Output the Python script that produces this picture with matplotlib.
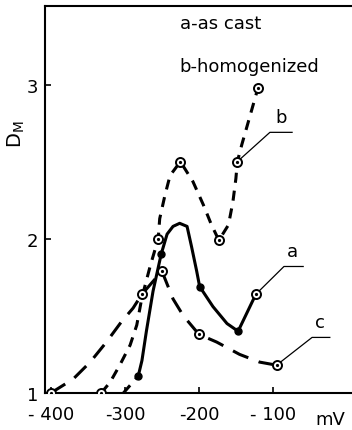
import matplotlib
matplotlib.use("Agg")
import matplotlib.pyplot as plt

# curve a - as cast (solid), lower dashed stub first
a_stub_x = [-302, -282]
a_stub_y = [1.00, 1.11]
a_x = [-282, -277, -271, -262, -251, -243, -235, -226, -216, -210, -203, -199, -181, -162, -147, -123]
a_y = [1.11, 1.21, 1.40, 1.66, 1.90, 2.03, 2.08, 2.10, 2.08, 1.95, 1.79, 1.69, 1.56, 1.45, 1.40, 1.64]
a_filled_x = [-282, -251, -199, -147]
a_filled_y = [1.11, 1.90, 1.69, 1.40]
a_open_x = [-123]
a_open_y = [1.64]

# curve b - homogenized (short dashes)
b_x = [-332, -320, -307, -293, -284, -277, -266, -255, -253, -246, -239, -225, -208, -194, -183, -173, -160, -154, -150, -148, -142, -120]
b_y = [1.00, 1.07, 1.18, 1.31, 1.44, 1.62, 1.82, 2.00, 2.13, 2.28, 2.41, 2.50, 2.37, 2.22, 2.09, 1.99, 2.09, 2.24, 2.39, 2.50, 2.61, 2.98]
b_mark_x = [-332, -255, -225, -173, -148, -120]
b_mark_y = [1.00, 2.00, 2.50, 1.99, 2.50, 2.98]

# curve c (long dashes)
c_x = [-400, -370, -347, -325, -305, -289, -277, -250, -235, -221, -200, -176, -145, -118, -95]
c_y = [1.00, 1.09, 1.20, 1.33, 1.46, 1.55, 1.64, 1.79, 1.61, 1.50, 1.38, 1.33, 1.25, 1.20, 1.18]
c_mark_x = [-400, -277, -250, -200, -95]
c_mark_y = [1.00, 1.64, 1.79, 1.38, 1.18]

# leader lines: point -> elbow -> end, label position
leaders = {
    'a': ([-123, -85, -59], [1.64, 1.82, 1.82], (-73, 1.86)),
    'b': ([-148, -104, -74], [2.50, 2.69, 2.69], (-89, 2.73)),
    'c': ([-95, -47, -23], [1.18, 1.36, 1.36], (-36, 1.40)),
}

xticks = [-400, -300, -200, -100]
xticklabels = ['- 400', '-300', '-200', '- 100']
yticks = [1, 2, 3]

fig = plt.figure(figsize=(3.52, 4.31), dpi=100)
ax = fig.add_axes([0.128, 0.086, 0.872, 0.898])

lw = 2.2
short_dash = (0, (3.3, 2.6))
long_dash = (0, (5.5, 3.6))
ax.plot(a_stub_x, a_stub_y, color='black', lw=lw, linestyle=short_dash)
ax.plot(a_x, a_y, color='black', lw=lw, solid_capstyle='round', solid_joinstyle='round')
ax.plot(b_x, b_y, color='black', lw=lw, linestyle=short_dash)
ax.plot(c_x, c_y, color='black', lw=lw, linestyle=long_dash)

# open circle markers with a dot in the middle
for mx, my in [(b_mark_x, b_mark_y), (c_mark_x, c_mark_y), (a_open_x, a_open_y)]:
    ax.plot(mx, my, 'o', ms=6.5, mfc='white', mec='black', mew=1.4, zorder=5)
    ax.plot(mx, my, 'o', ms=1.3, color='black', zorder=6)
ax.plot(a_filled_x, a_filled_y, 'o', ms=5, color='black', zorder=5)

for name, (lx, ly, tpos) in leaders.items():
    ax.plot(lx, ly, color='black', lw=0.9)
    ax.text(tpos[0], tpos[1], name, fontsize=13, ha='center', va='bottom')

ax.text(-226, 3.40, 'a-as cast', fontsize=13, ha='left', va='center')
ax.text(-226, 3.12, 'b-homogenized', fontsize=13, ha='left', va='center')

ax.set_xlim(-408, 7)
ax.set_ylim(1.0, 3.51)
ax.set_xticks(xticks)
ax.set_xticklabels(xticklabels)
ax.set_yticks(yticks)
ax.tick_params(direction='in', length=4, width=1.2, labelsize=13)
ax.tick_params(axis='x', pad=9)
ax.tick_params(axis='y', pad=5)
for s in ['left', 'bottom', 'top']:
    ax.spines[s].set_linewidth(1.5)
ax.spines['right'].set_visible(False)

ax.set_ylabel('$\\mathregular{D_M}$', fontsize=14)
ax.yaxis.set_label_coords(-0.06, 0.67)
ax.text(0.93, -0.067, 'mV', transform=ax.transAxes, fontsize=13, ha='center', va='center')

fig.savefig('out.png', dpi=100)
